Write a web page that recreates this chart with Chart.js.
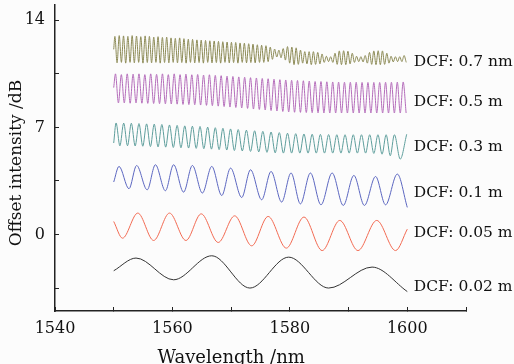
<!DOCTYPE html>
<html>
<head>
<meta charset="utf-8">
<script src="https://cdn.jsdelivr.net/npm/chart.js@4.4.0/dist/chart.umd.min.js"></script>
<style>
  html, body { margin: 0; padding: 0; background: #fcfcfc; }
  #wrap { width: 514px; height: 364px; }
</style>
</head>
<body>
<div id="wrap"><canvas id="chart" width="514" height="364"></canvas></div>
<script>
// ---- data (wavelength nm, offset intensity dB) ----
var labels = ["DCF: 0.7 nm", "DCF: 0.5 m", "DCF: 0.3 m", "DCF: 0.1 m", "DCF: 0.05 m", "DCF: 0.02 m"];
var xTicks = [1540, 1560, 1580, 1600];
var yTicks = [0, 7, 14];

var blackWl = [1550, 1553.8, 1560.2, 1566.7, 1573.2, 1579.8, 1586.6, 1594.0, 1600];
var blackDb = [-2.37, -1.54, -2.96, -1.39, -3.5, -1.48, -3.5, -2.13, -3.73];

var redWl = [1550, 1551.5, 1554.1, 1556.8, 1559.5, 1562.3, 1564.9, 1567.8, 1570.6, 1573.5, 1576.3, 1579.4, 1582.4, 1585.5, 1588.5, 1591.6, 1594.8, 1598.0, 1600];
var redDb = [0.85, -0.24, 1.40, -0.39, 1.40, -0.39, 1.35, -0.52, 1.22, -0.74, 1.18, -0.89, 1.14, -1.05, 0.92, -1.05, 0.92, -1.05, 0.35];

var blueWl = [1550, 1550.9, 1552.6, 1553.9, 1555.7, 1557.1, 1558.8, 1560.2, 1561.9, 1563.4, 1565.1, 1566.7, 1568.4, 1569.9, 1571.8, 1573.3, 1575.2, 1576.8, 1578.6, 1580.2, 1581.8, 1583.5, 1585.3, 1587.2, 1589.1, 1590.9, 1592.7, 1594.6, 1596.3, 1598.3, 1600];
var blueDb = [3.43, 4.45, 2.99, 4.51, 2.92, 4.56, 2.86, 4.56, 2.77, 4.51, 2.71, 4.45, 2.55, 4.34, 2.42, 4.23, 2.27, 4.12, 2.12, 4.02, 2.0, 4.02, 1.94, 4.02, 1.90, 3.86, 1.90, 3.79, 1.94, 3.95, 1.77];

var tealPeakWl = [1550.4, 1551.7, 1553.0, 1554.3, 1555.6, 1556.9, 1558.2, 1559.5, 1560.8, 1562.1, 1563.4, 1564.7, 1566.0, 1567.3, 1568.6, 1569.9, 1571.2, 1572.6, 1574.0, 1575.4, 1576.8, 1578.2, 1579.6, 1581.0, 1582.4, 1583.8, 1585.2, 1586.6, 1588.0, 1589.4, 1590.8, 1592.2, 1593.6, 1595.0, 1596.4, 1597.8, 1599.9];
var tealPeakDb = [7.29, 7.28, 7.27, 7.25, 7.23, 7.21, 7.19, 7.16, 7.13, 7.10, 7.08, 7.06, 7.02, 6.98, 6.94, 6.90, 6.86, 6.82, 6.78, 6.74, 6.70, 6.66, 6.62, 6.59, 6.57, 6.55, 6.54, 6.53, 6.52, 6.52, 6.52, 6.52, 6.52, 6.52, 6.52, 6.52, 6.55];
var tealDipWl = [1550, 1551.05, 1552.35, 1553.65, 1554.95, 1556.25, 1557.55, 1558.85, 1560.15, 1561.45, 1562.75, 1564.05, 1565.35, 1566.65, 1567.95, 1569.25, 1570.55, 1571.9, 1573.3, 1574.7, 1576.1, 1577.5, 1578.9, 1580.3, 1581.7, 1583.1, 1584.5, 1585.9, 1587.3, 1588.7, 1590.1, 1591.5, 1592.9, 1594.3, 1595.7, 1597.1, 1598.8];
var tealDipDb = [5.98, 5.80, 5.80, 5.79, 5.77, 5.75, 5.73, 5.71, 5.69, 5.67, 5.65, 5.63, 5.61, 5.58, 5.55, 5.52, 5.49, 5.46, 5.43, 5.40, 5.37, 5.34, 5.32, 5.32, 5.32, 5.32, 5.32, 5.32, 5.32, 5.32, 5.32, 5.32, 5.32, 5.30, 5.25, 5.15, 4.93];

var purplePeakWl = [1550.3, 1551.3, 1552.3, 1553.3, 1554.3, 1555.3, 1556.3, 1557.3, 1558.3, 1559.3, 1560.3, 1561.3, 1562.3, 1563.3, 1564.3, 1565.3, 1566.3, 1567.3, 1568.3, 1569.3, 1570.3, 1571.3, 1572.3, 1573.3, 1574.3, 1575.3, 1576.3, 1577.3, 1578.3, 1579.3, 1580.3, 1581.3, 1582.3, 1583.3, 1584.3, 1585.3, 1586.3, 1587.3, 1588.3, 1589.3, 1590.3, 1591.3, 1592.3, 1593.3, 1594.3, 1595.3, 1596.3, 1597.3, 1598.3, 1599.3];
var purplePeakDb = [10.5, 10.45, 10.5, 10.48, 10.5, 10.45, 10.5, 10.47, 10.5, 10.45, 10.5, 10.45, 10.48, 10.44, 10.46, 10.42, 10.44, 10.4, 10.38, 10.35, 10.33, 10.3, 10.28, 10.25, 10.23, 10.2, 10.18, 10.15, 10.12, 10.1, 10.08, 10.07, 10.05, 10.03, 10.0, 10.0, 9.98, 9.97, 9.96, 9.95, 9.95, 9.95, 9.94, 9.94, 9.94, 9.94, 9.95, 9.95, 9.96, 9.97];
var purpleDipWl = [1550, 1550.8, 1551.8, 1552.8, 1553.8, 1554.8, 1555.8, 1556.8, 1557.8, 1558.8, 1559.8, 1560.8, 1561.8, 1562.8, 1563.8, 1564.8, 1565.8, 1566.8, 1567.8, 1568.8, 1569.8, 1570.8, 1571.8, 1572.8, 1573.8, 1574.8, 1575.8, 1576.8, 1577.8, 1578.8, 1579.8, 1580.8, 1581.8, 1582.8, 1583.8, 1584.8, 1585.8, 1586.8, 1587.8, 1588.8, 1589.8, 1590.8, 1591.8, 1592.8, 1593.8, 1594.8, 1595.8, 1596.8, 1597.8, 1598.8, 1599.8];
var purpleDipDb = [9.6, 8.6, 8.6, 8.58, 8.6, 8.58, 8.57, 8.56, 8.55, 8.54, 8.53, 8.52, 8.5, 8.49, 8.48, 8.46, 8.44, 8.42, 8.39, 8.36, 8.33, 8.3, 8.27, 8.24, 8.2, 8.17, 8.14, 8.1, 8.07, 8.04, 8.01, 7.99, 7.98, 7.97, 7.96, 7.95, 7.94, 7.94, 7.94, 7.94, 7.94, 7.94, 7.94, 7.94, 7.94, 7.94, 7.94, 7.94, 7.94, 7.94, 7.94];

var olivePeakWl = [1550.2, 1550.94, 1551.67, 1552.41, 1553.14, 1553.88, 1554.61, 1555.35, 1556.08, 1556.82, 1557.55, 1558.29, 1559.02, 1559.76, 1560.49, 1561.23, 1561.96, 1562.7, 1563.43, 1564.17, 1564.9, 1565.64, 1566.37, 1567.11, 1567.84, 1568.58, 1569.31, 1570.05, 1570.78, 1571.52, 1572.25, 1572.99, 1573.72, 1574.46, 1575.19, 1575.93, 1576.66, 1577.4, 1578.13, 1578.87, 1579.6, 1580.34, 1581.07, 1581.81, 1582.54, 1583.28, 1584.01, 1584.75, 1585.48, 1586.22, 1586.95, 1587.69, 1588.42, 1589.16, 1589.89, 1590.63, 1591.36, 1592.1, 1592.83, 1593.57, 1594.3, 1595.04, 1595.77, 1596.51, 1597.24, 1597.98, 1598.71, 1599.45];
var olivePeakDb = [12.95, 13.0, 12.98, 12.95, 13.0, 12.97, 12.93, 12.98, 12.95, 12.9, 12.93, 12.88, 12.9, 12.85, 12.82, 12.85, 12.8, 12.76, 12.75, 12.72, 12.7, 12.68, 12.66, 12.65, 12.62, 12.6, 12.58, 12.56, 12.55, 12.52, 12.5, 12.47, 12.44, 12.4, 12.37, 12.34, 12.25, 12.12, 12.05, 12.15, 12.28, 12.25, 12.2, 12.05, 11.95, 11.95, 11.95, 11.9, 11.8, 11.65, 11.62, 11.85, 12.0, 12.01, 11.98, 11.85, 11.65, 11.62, 11.7, 11.9, 12.0, 12.01, 12.0, 11.85, 11.65, 11.62, 11.62, 11.7];
var oliveDipWl = [1550, 1550.57, 1551.31, 1552.04, 1552.78, 1553.51, 1554.25, 1554.98, 1555.72, 1556.45, 1557.19, 1557.92, 1558.66, 1559.39, 1560.13, 1560.86, 1561.6, 1562.33, 1563.07, 1563.8, 1564.54, 1565.27, 1566.01, 1566.74, 1567.48, 1568.21, 1568.95, 1569.68, 1570.42, 1571.15, 1571.89, 1572.62, 1573.36, 1574.09, 1574.83, 1575.56, 1576.3, 1577.03, 1577.77, 1578.5, 1579.24, 1579.97, 1580.71, 1581.44, 1582.18, 1582.91, 1583.65, 1584.38, 1585.12, 1585.85, 1586.59, 1587.32, 1588.06, 1588.79, 1589.53, 1590.26, 1591.0, 1591.73, 1592.47, 1593.2, 1593.94, 1594.67, 1595.41, 1596.14, 1596.88, 1597.61, 1598.35, 1599.08, 1599.82];
var oliveDipDb = [12.1, 11.22, 11.25, 11.2, 11.25, 11.22, 11.25, 11.2, 11.24, 11.22, 11.25, 11.2, 11.24, 11.22, 11.25, 11.22, 11.24, 11.2, 11.25, 11.22, 11.24, 11.2, 11.25, 11.22, 11.24, 11.2, 11.25, 11.22, 11.24, 11.2, 11.25, 11.22, 11.24, 11.22, 11.25, 11.25, 11.3, 11.45, 11.6, 11.55, 11.4, 11.2, 11.1, 11.12, 11.2, 11.15, 11.1, 11.12, 11.15, 11.25, 11.3, 11.25, 11.12, 11.1, 11.1, 11.15, 11.25, 11.3, 11.28, 11.2, 11.12, 11.1, 11.1, 11.12, 11.2, 11.28, 11.3, 11.3, 11.25];

// where each DCF label sits (dB, at the right end of the traces)
var labelDb = [11.3, 8.63, 5.74, 2.73, 0.11, -3.42];

function pts(xs, ys) {
    return xs.map(function(x, i) { return {x: x, y: ys[i]}; });
}
function merge(a, b) {
    return a.concat(b).sort(function(p, q) { return p.x - q.x; });
}

var serif = '"DejaVu Serif", serif';

var textPlugin = {
    id: 'textPlugin',
    afterDraw: function(chart) {
        var ctx = chart.ctx;
        var xs = chart.scales.x, ys = chart.scales.y;
        ctx.save();
        ctx.fillStyle = '#111';
        // DCF labels
        ctx.font = '15.5px ' + serif;
        ctx.textAlign = 'left';
        ctx.textBaseline = 'middle';
        labels.forEach(function(t, i) {
            ctx.fillText(t, xs.getPixelForValue(1601.1), ys.getPixelForValue(labelDb[i]));
        });
        // axis titles
        ctx.font = '18px ' + serif;
        ctx.textAlign = 'center';
        ctx.textBaseline = 'alphabetic';
        ctx.fillText('Wavelength /nm', xs.getPixelForValue(1570), 363);
        ctx.font = '17px ' + serif;
        ctx.translate(21, (ys.top + ys.bottom) / 2 + 5);
        ctx.rotate(-Math.PI / 2);
        ctx.fillText('Offset intensity /dB', 0, 0);
        ctx.restore();
    }
};

function line(data, color) {
    return {
        data: data,
        borderColor: color,
        borderWidth: 1,
        pointRadius: 0,
        fill: false,
        cubicInterpolationMode: 'monotone'
    };
}

new Chart(document.getElementById('chart').getContext('2d'), {
    type: 'line',
    data: {
        datasets: [
            line(merge(pts(olivePeakWl, olivePeakDb), pts(oliveDipWl, oliveDipDb)), '#8c8a55'),
            line(merge(pts(purplePeakWl, purplePeakDb), pts(purpleDipWl, purpleDipDb)), '#b46cba'),
            line(merge(pts(tealPeakWl, tealPeakDb), pts(tealDipWl, tealDipDb)), '#5e9e9c'),
            line(pts(blueWl, blueDb), '#5b66c0'),
            line(pts(redWl, redDb), '#f26a52'),
            line(pts(blackWl, blackDb), '#333333')
        ]
    },
    options: {
        responsive: false,
        devicePixelRatio: 1,
        animation: false,
        layout: { padding: { left: 0, right: 48, top: 5, bottom: 0 } },
        plugins: { legend: { display: false }, tooltip: { enabled: false } },
        scales: {
            x: {
                type: 'linear',
                min: 1540,
                max: 1610,
                afterFit: function(s) { s.height = 53; s.paddingLeft = 0; s.paddingRight = 0; },
                grid: { drawOnChartArea: false, tickLength: -4, color: '#222', lineWidth: 1 },
                border: { display: true, color: '#222', width: 1.5 },
                ticks: {
                    stepSize: 10,
                    includeBounds: false,
                    maxRotation: 0,
                    autoSkip: false,
                    padding: 12,
                    color: '#111',
                    font: { size: 16, family: serif },
                    callback: function(v) { return xTicks.indexOf(v) >= 0 ? String(v) : ''; }
                }
            },
            y: {
                min: -5,
                max: 15,
                afterFit: function(s) { s.width = 55; s.paddingTop = 0; s.paddingBottom = 0; },
                grid: { drawOnChartArea: false, tickLength: -4, color: '#222', lineWidth: 1 },
                border: { display: true, color: '#222', width: 1.5 },
                ticks: {
                    stepSize: 3.5,
                    includeBounds: false,
                    autoSkip: false,
                    padding: 14,
                    color: '#111',
                    font: { size: 16, family: serif },
                    callback: function(v) { return yTicks.indexOf(v) >= 0 ? String(v) : ''; }
                }
            }
        }
    },
    plugins: [textPlugin]
});
</script>
</body>
</html>
